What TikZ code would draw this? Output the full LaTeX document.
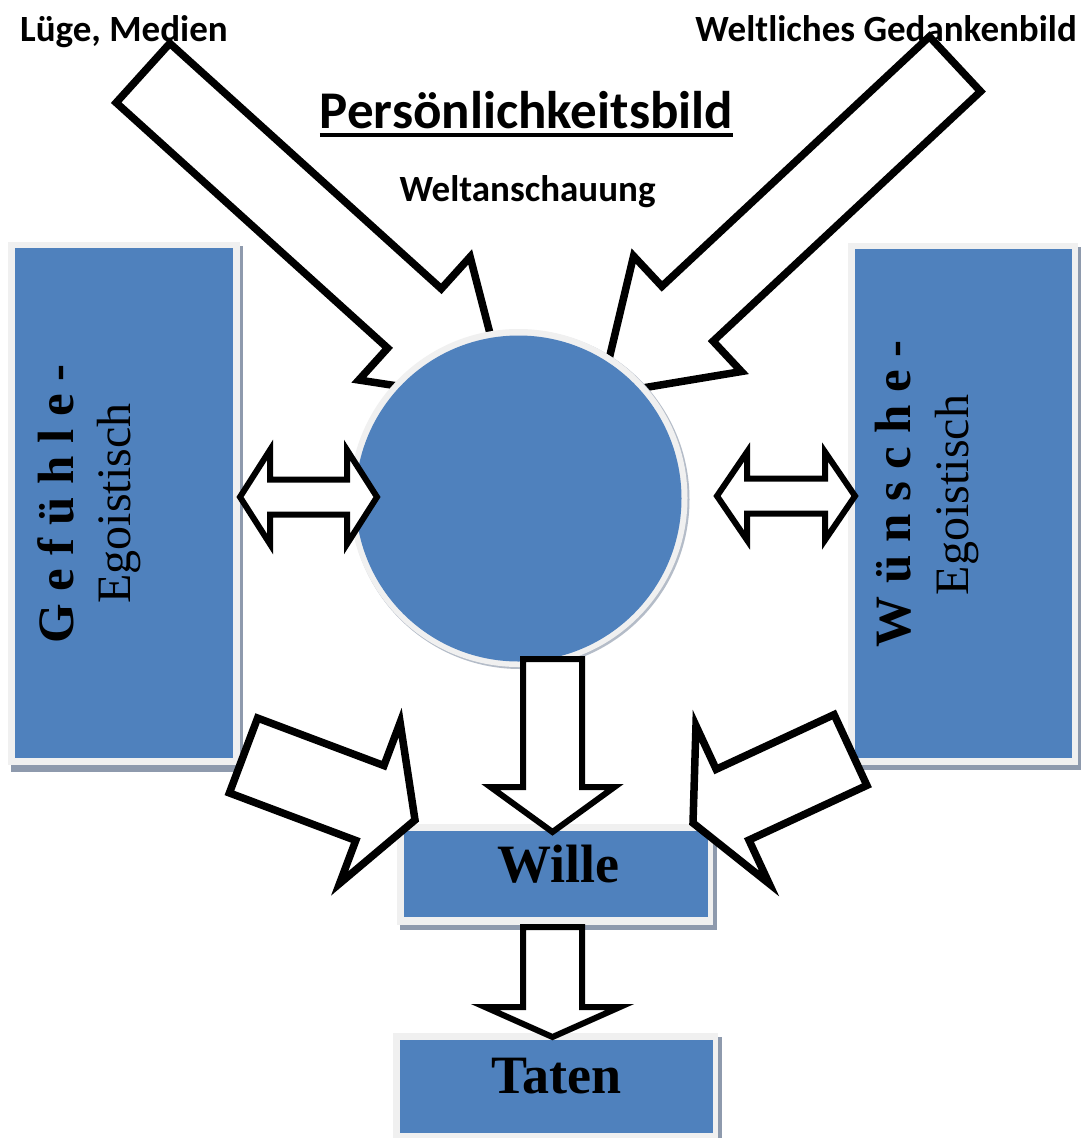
\documentclass[tikz,border=0pt]{standalone}
\usepackage{fontspec}
\setmainfont{Liberation Serif}
\newfontfamily\carlito{Carlito}
\usetikzlibrary{calc}
\definecolor{boxblue}{HTML}{4F81BD}
\definecolor{rimgray}{HTML}{F0F0F0}
\definecolor{shadowgray}{HTML}{8E9AAD}
\definecolor{softshadow}{HTML}{B4BCC8}
\tikzset{
  blockarr/.style={draw=black,fill=white,line width=6pt,line join=miter},
  bigarr/.style={blockarr,line width=7.5pt},
  bluebox/.style={fill=boxblue,draw=none,inner sep=0pt,rectangle},
  rim/.style={fill=rimgray,draw=none},
  shade/.style={fill=shadowgray,draw=none},
  lbl/.style={font=\carlito\bfseries\fontsize{37}{44}\selectfont,inner sep=0pt},
  vbold/.style={font=\bfseries\fontsize{51}{60}\selectfont,inner sep=0pt,rotate=90,anchor=base},
  vreg/.style={font=\fontsize{48}{56}\selectfont,inner sep=0pt,rotate=90,anchor=base},
  boxtxt/.style={font=\bfseries\fontsize{54}{62}\selectfont,inner sep=0pt,anchor=base},
}
\newcommand\blockarrow[6][blockarr]{%
  \coordinate (#2-base) at ($(#2)!#4!(#3)$);
  \draw[#1] ($(#2)!#5!90:(#3)$) -- ($(#2-base)!#5!90:(#3)$) -- ($(#2-base)!#6!90:(#3)$)
    -- (#3) -- ($(#2-base)!#6!-90:(#3)$) -- ($(#2-base)!#5!-90:(#3)$)
    -- ($(#2)!#5!-90:(#3)$) -- cycle;}
\newcommand\dblarrow[5]{% end A, end B, head length, shaft half, head half
  \coordinate (#1-h) at ($(#1)!#3!(#2)$);
  \coordinate (#2-h) at ($(#2)!#3!(#1)$);
  \draw[blockarr] (#1) -- ($(#1-h)!#5!90:(#2)$) -- ($(#1-h)!#4!90:(#2)$)
    -- ($(#2-h)!#4!-90:(#1)$) -- ($(#2-h)!#5!-90:(#1)$) -- (#2)
    -- ($(#2-h)!#5!90:(#1)$) -- ($(#2-h)!#4!90:(#1)$)
    -- ($(#1-h)!#4!-90:(#2)$) -- ($(#1-h)!#5!-90:(#2)$) -- cycle;}
\begin{document}
\begin{tikzpicture}[x=1pt,y=-1pt]
\useasboundingbox[fill=white] (0,0) rectangle (1081,1138);

% top labels
\node[lbl,anchor=base west] (luege) at (20,41) {Lüge, Medien};
\node[lbl,anchor=base east] (weltl) at (1077,41) {Weltliches Gedankenbild};
\node[lbl,font=\carlito\bfseries\fontsize{53}{60}\selectfont,anchor=base] (title) at (526.5,128) {Persönlichkeitsbild};
\draw[line width=3.5pt] ([yshift=-7pt]title.base west) -- ([yshift=-7pt]title.base east);
\node[lbl,anchor=base] (welta) at (527.5,201) {Weltanschauung};

% top arrows
\coordinate (tlT) at (143,73);  \coordinate (tlP) at (508,403);
\coordinate (trT) at (955,64);  \coordinate (trP) at (600.5,395);
\blockarrow[bigarr]{tlT}{tlP}{366pt}{40pt}{83pt}
\blockarrow[bigarr]{trT}{trP}{366pt}{37.5pt}{79pt}

% circle
\fill[softshadow] (520,499.5) circle[radius=169.5pt];
\fill[rimgray] (518.5,498) circle[radius=169pt];
\node[fill=boxblue,circle,inner sep=0pt,minimum size=326pt] (circ) at (518.5,498.5) {};

% side boxes
\fill[shade] (11,246) rectangle (243,772);
\fill[rim] (8,242) rectangle (240,765);
\node[bluebox,minimum width=218pt,minimum height=510pt] (gef) at (124,503) {};
\fill[shade] (851,247) rectangle (1081,770);
\fill[rim] (848,243) rectangle (1078,765);
\node[bluebox,minimum width=217pt,minimum height=509pt] (wun) at (963.5,503.5) {};

% Wille / Taten boxes
\fill[shade] (400,828) rectangle (717,930);
\fill[rim] (397,824) rectangle (713,925);
\node[bluebox,minimum width=304pt,minimum height=86pt] (wille) at (556,874) {};
\fill[shade] (396,1037) rectangle (722,1142);
\fill[rim] (393,1033) rectangle (718,1138);
\node[bluebox,minimum width=313pt,minimum height=93pt] (taten) at (556.5,1086.5) {};

% double arrows
\coordinate (dlA) at (240,497); \coordinate (dlB) at (377,497);
\coordinate (drA) at (717,496); \coordinate (drB) at (855,496);
\dblarrow{dlA}{dlB}{30pt}{17.5pt}{47pt}
\dblarrow{drA}{drB}{30pt}{17.5pt}{44pt}

% down arrows
\coordinate (d1T) at (552.5,659); \coordinate (d1P) at (552.5,832);
\coordinate (d2T) at (552.5,927); \coordinate (d2P) at (552.5,1037);
\blockarrow{d1T}{d1P}{128pt}{29.5pt}{62pt}
\blockarrow{d2T}{d2P}{80pt}{29.5pt}{67.5pt}

% bottom diagonal arrows
\coordinate (blT) at (243.5,755.5); \coordinate (blP) at (415,820);
\coordinate (brT) at (850.5,750);   \coordinate (brP) at (693,823);
\blockarrow[bigarr]{blT}{blP}{135pt}{40pt}{86pt}
\blockarrow[bigarr]{brT}{brP}{130pt}{39pt}{87pt}

% texts in boxes
\node[vbold] (gef1) at (73,504) {G e f ü h l e -};
\node[vreg] (gef2) at (130,503.5) {Egoistisch};
\node[vbold] (wun1) at (910,494) {W ü n s c h e -};
\node[vreg] (wun2) at (968,495) {Egoistisch};
\node[boxtxt] (willet) at (558.5,882) {Wille};
\node[boxtxt] (tatent) at (556.5,1093) {Taten};
\end{tikzpicture}
\end{document}
